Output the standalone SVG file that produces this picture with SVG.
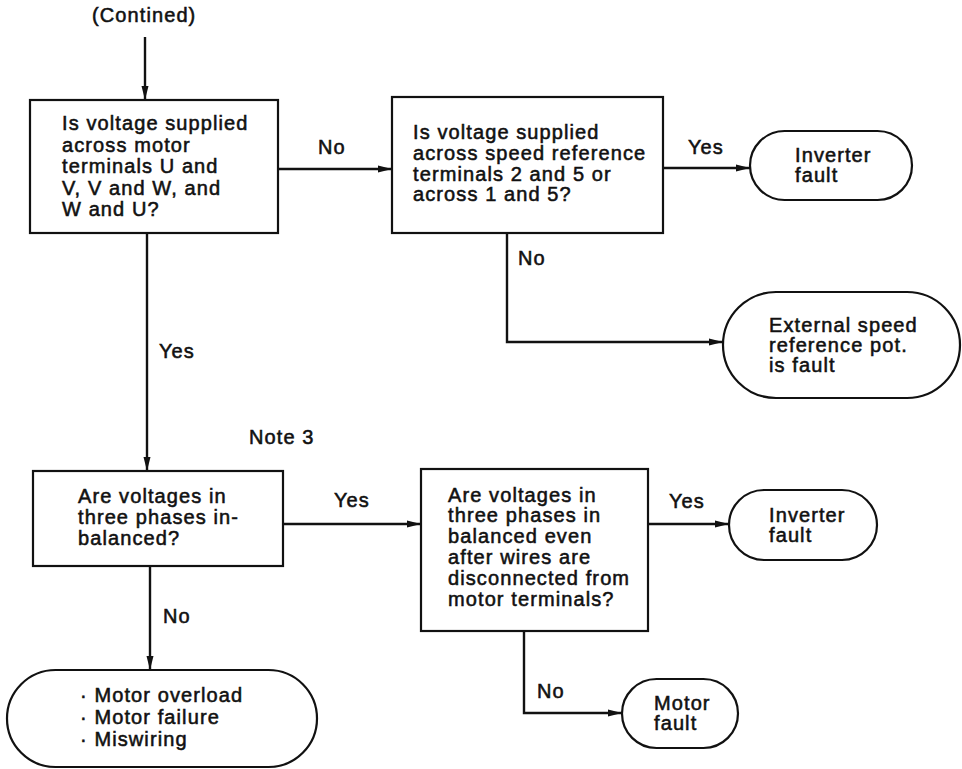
<svg xmlns="http://www.w3.org/2000/svg" width="962" height="769" viewBox="0 0 962 769">
<style>
.box{fill:#fff;stroke:#111;stroke-width:2.2}
.ln{fill:none;stroke:#111;stroke-width:2.4}
text{font-family:"Liberation Sans",Arial,sans-serif;font-size:20px;font-weight:normal;letter-spacing:1.1px;fill:#111;stroke:#111;stroke-width:0.55px}
</style>
<defs>
<marker id="ah" viewBox="0 0 14 8" refX="14" refY="4" markerWidth="14" markerHeight="8" markerUnits="userSpaceOnUse" orient="auto">
<path d="M0,0.5 L14,4 L0,7.5 Z" fill="#111"/>
</marker>
</defs>
<rect width="962" height="769" fill="#fff"/>
<g id="connectors">
<path class="ln" d="M145,37 V100" marker-end="url(#ah)"/>
<path class="ln" d="M278,169 H392" marker-end="url(#ah)"/>
<path class="ln" d="M663,168 H750" marker-end="url(#ah)"/>
<path class="ln" d="M507,233 V342 H723" marker-end="url(#ah)"/>
<path class="ln" d="M147,233 V471" marker-end="url(#ah)"/>
<path class="ln" d="M283,524 H421" marker-end="url(#ah)"/>
<path class="ln" d="M648,524 H729" marker-end="url(#ah)"/>
<path class="ln" d="M524,631 V713 H622" marker-end="url(#ah)"/>
<path class="ln" d="M150,566 V670" marker-end="url(#ah)"/>
</g>
<g id="labels">
<text x="92" y="22">(Contined)</text>
<text x="318" y="154">No</text>
<text x="688" y="154">Yes</text>
<text x="518" y="265">No</text>
<text x="159" y="358">Yes</text>
<text x="249" y="444">Note 3</text>
<text x="334" y="507">Yes</text>
<text x="669" y="508">Yes</text>
<text x="163" y="623">No</text>
<text x="537" y="698">No</text>
</g>
<g id="q1">
<rect class="box" x="30" y="100" width="248" height="133"/>
<text x="62" y="130">Is voltage supplied</text>
<text x="62" y="152">across motor</text>
<text x="62" y="173">terminals U and</text>
<text x="62" y="195">V, V and W, and</text>
<text x="62" y="216">W and U?</text>
</g>
<g id="q2">
<rect class="box" x="392" y="97" width="271" height="136"/>
<text x="413" y="139">Is voltage supplied</text>
<text x="413" y="160">across speed reference</text>
<text x="413" y="181">terminals 2 and 5 or</text>
<text x="413" y="201">across 1 and 5?</text>
</g>
<g id="t_inverter1">
<rect class="box" x="750" y="131" width="162" height="69" rx="34.5"/>
<text x="795" y="162">Inverter</text>
<text x="795" y="182">fault</text>
</g>
<g id="t_external">
<rect class="box" x="723" y="292" width="237" height="106" rx="53"/>
<text x="769" y="332">External speed</text>
<text x="769" y="352">reference pot.</text>
<text x="769" y="372">is fault</text>
</g>
<g id="q3">
<rect class="box" x="33" y="471" width="250" height="95"/>
<text x="78" y="503">Are voltages in</text>
<text x="78" y="524">three phases in-</text>
<text x="78" y="545">balanced?</text>
</g>
<g id="q4">
<rect class="box" x="421" y="469" width="227" height="162"/>
<text x="448" y="502">Are voltages in</text>
<text x="448" y="522">three phases in</text>
<text x="448" y="543">balanced even</text>
<text x="448" y="564">after wires are</text>
<text x="448" y="585">disconnected from</text>
<text x="448" y="606">motor terminals?</text>
</g>
<g id="t_inverter2">
<rect class="box" x="729" y="490" width="148" height="70" rx="35"/>
<text x="769" y="522">Inverter</text>
<text x="769" y="542">fault</text>
</g>
<g id="t_motor">
<rect class="box" x="622" y="679" width="116" height="69" rx="34.5"/>
<text x="654" y="710">Motor</text>
<text x="654" y="730">fault</text>
</g>
<g id="t_causes">
<rect class="box" x="7" y="670" width="310" height="97" rx="48.5"/>
<text x="80" y="702">· Motor overload</text>
<text x="80" y="724">· Motor failure</text>
<text x="80" y="746">· Miswiring</text>
</g>
</svg>
